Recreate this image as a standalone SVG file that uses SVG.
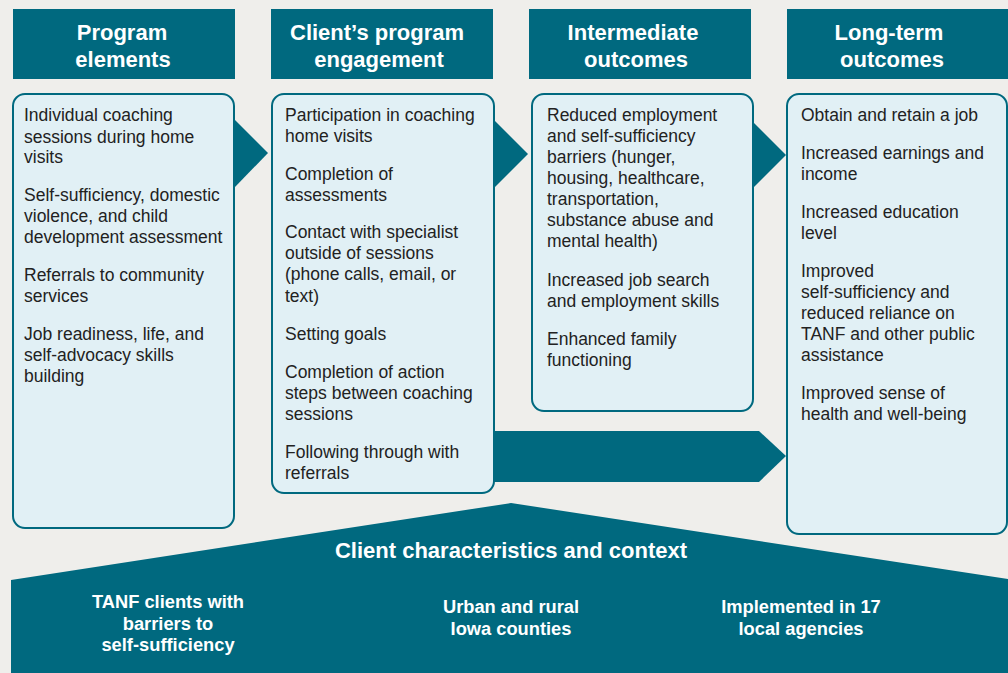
<svg xmlns="http://www.w3.org/2000/svg" width="1008" height="673" viewBox="0 0 1008 673">
<style>
.hdr{fill:#00697f}
.hdrt{font-family:"Liberation Sans",Arial,sans-serif;font-weight:bold;font-size:22px;fill:#fff;text-anchor:middle}
.box{fill:#e1f0f5;stroke:#00697f;stroke-width:2}
.t{font-family:"Liberation Sans",Arial,sans-serif;font-size:17.5px;fill:#222}
.arr{fill:#00697f}
.bt{font-family:"Liberation Sans",Arial,sans-serif;font-weight:bold;font-size:18.3px;fill:#fff;text-anchor:middle}
.bh{font-family:"Liberation Sans",Arial,sans-serif;font-weight:bold;font-size:22px;fill:#fff;text-anchor:middle}
</style>
<rect width="1008" height="673" fill="#efeeeb"/>
<g id="connectors">
<polygon class="arr" points="235,120 268,153 235,187"/>
<polygon class="arr" points="495,121 528,154 495,187"/>
<polygon class="arr" points="753,122 786,155 753,188"/>
<polygon class="arr" points="494,431 759,431 786,456 759,482 494,482"/>
</g>
<g id="header1"><rect class="hdr" x="13" y="9" width="222" height="70"/><text class="hdrt" x="122" y="40">Program</text><text class="hdrt" x="123" y="67">elements</text></g>
<g id="header2"><rect class="hdr" x="271" y="9" width="222" height="70"/><text class="hdrt" x="377" y="40">Client’s program</text><text class="hdrt" x="379" y="67">engagement</text></g>
<g id="header3"><rect class="hdr" x="529" y="9" width="222" height="70"/><text class="hdrt" x="633" y="40">Intermediate</text><text class="hdrt" x="636" y="67">outcomes</text></g>
<g id="header4"><rect class="hdr" x="787" y="9" width="221" height="70"/><text class="hdrt" x="889" y="40">Long-term</text><text class="hdrt" x="892" y="67">outcomes</text></g>
<g id="box1"><rect class="box" x="13" y="94" width="221" height="434" rx="12"/>
<text class="t"><tspan x="24" y="121">Individual coaching</tspan><tspan x="24" y="143">sessions during home</tspan><tspan x="24" y="163">visits</tspan><tspan x="24" y="201">Self-sufficiency, domestic</tspan><tspan x="24" y="222">violence, and child</tspan><tspan x="24" y="243">development assessment</tspan><tspan x="24" y="281">Referrals to community</tspan><tspan x="24" y="302">services</tspan><tspan x="24" y="340">Job readiness, life, and</tspan><tspan x="24" y="361">self-advocacy skills</tspan><tspan x="24" y="382">building</tspan></text></g>
<g id="box2"><rect class="box" x="272" y="94" width="222" height="399" rx="12"/>
<text class="t"><tspan x="285" y="121">Participation in coaching</tspan><tspan x="285" y="142">home visits</tspan><tspan x="285" y="180">Completion of</tspan><tspan x="285" y="201">assessments</tspan><tspan x="285" y="238">Contact with specialist</tspan><tspan x="285" y="259">outside of sessions</tspan><tspan x="285" y="280">(phone calls, email, or</tspan><tspan x="285" y="302">text)</tspan><tspan x="285" y="340">Setting goals</tspan><tspan x="285" y="378">Completion of action</tspan><tspan x="285" y="399">steps between coaching</tspan><tspan x="285" y="420">sessions</tspan><tspan x="285" y="458">Following through with</tspan><tspan x="285" y="479">referrals</tspan></text></g>
<g id="box3"><rect class="box" x="532" y="94" width="221" height="317" rx="12"/>
<text class="t"><tspan x="547" y="121">Reduced employment</tspan><tspan x="547" y="142">and self-sufficiency</tspan><tspan x="547" y="163">barriers (hunger,</tspan><tspan x="547" y="184">housing, healthcare,</tspan><tspan x="547" y="205">transportation,</tspan><tspan x="547" y="226">substance abuse and</tspan><tspan x="547" y="247">mental health)</tspan><tspan x="547" y="286">Increased job search</tspan><tspan x="547" y="307">and employment skills</tspan><tspan x="547" y="345">Enhanced family</tspan><tspan x="547" y="366">functioning</tspan></text></g>
<g id="box4"><rect class="box" x="787" y="94" width="220" height="440" rx="12"/>
<text class="t"><tspan x="801" y="121">Obtain and retain a job</tspan><tspan x="801" y="159">Increased earnings and</tspan><tspan x="801" y="180">income</tspan><tspan x="801" y="218">Increased education</tspan><tspan x="801" y="239">level</tspan><tspan x="801" y="277">Improved</tspan><tspan x="801" y="298">self-sufficiency and</tspan><tspan x="801" y="319">reduced reliance on</tspan><tspan x="801" y="340">TANF and other public</tspan><tspan x="801" y="361">assistance</tspan><tspan x="801" y="399">Improved sense of</tspan><tspan x="801" y="420">health and well-being</tspan></text></g>
<g id="context"><polygon class="arr" points="11,580 511,503 1008,579 1008,673 11,673"/>
<text class="bh" x="511" y="558">Client characteristics and context</text>
<text class="bt"><tspan x="168" y="608">TANF clients with</tspan><tspan x="168" y="630">barriers to</tspan><tspan x="168" y="651">self-sufficiency</tspan></text>
<text class="bt"><tspan x="511" y="613">Urban and rural</tspan><tspan x="511" y="635">Iowa counties</tspan></text>
<text class="bt"><tspan x="801" y="613">Implemented in 17</tspan><tspan x="801" y="635">local agencies</tspan></text></g>
</svg>
